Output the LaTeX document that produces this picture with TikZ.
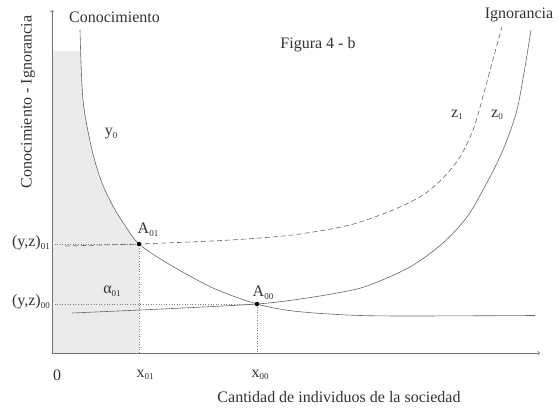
\documentclass[tikz,border=0pt]{standalone}
\usepackage{fontspec}
\setmainfont{Liberation Serif}
\usepackage{tikz}

\newcommand{\bajo}[1]{\raisebox{-0.35ex}{\fontsize{9}{9}\selectfont #1}}

\tikzset{
	curva/.style={draw=black!60, line width=0.6pt},
	guia/.style={draw=black!50, dotted, line width=0.6pt},
	eje/.style={draw=black!55, line width=0.7pt, ->},
	etiqueta/.style={text=black!80, inner sep=1pt},
}

\begin{document}
\begin{tikzpicture}[x=10pt,y=10pt,font=\fontsize{16}{19}\selectfont]
	\useasboundingbox (-5.2,-5.7) rectangle (50.7,35.3);
	%\draw[help lines] (0,0) grid (48,34);
	\coordinate (O) at (0,0);
	\coordinate (xfin) at (48.8,0);
	\coordinate (yfin) at (0,34.3);
	\coordinate (A01) at (8.7,10.9);
	\coordinate (A00) at (20.5,4.9);
	\coordinate (y01) at (0,10.9);
	\coordinate (y00) at (0,4.9);
	\coordinate (x01) at (8.7,0);
	\coordinate (x00) at (20.5,0);
	% zona sombreada
	\begin{scope}
		\clip (0,0) -- (0,34) -- (2.8,34) -- plot[smooth] coordinates {(2.8,32.3) (3.1,25.3) (4.0,20.3) (5.0,17.0) (6.2,14.5) (7.4,12.6) (8.7,10.9) (11.5,9.0) (16.1,6.5) (20.5,4.9) (24.1,4.2) (29.5,3.8) (35,3.7) (48.3,3.75)} -- (48.3,0) -- cycle;
		\fill[black!8] (O) rectangle (8.7,30.2);
	\end{scope}
	% ejes
	\draw[eje] (O) -- (xfin);
	\draw[eje] (O) -- (yfin);
	% lineas de guia
	\draw[guia] (y01) -- (A01) -- (x01);
	\draw[guia] (y00) -- (A00) -- (x00);
	% curva y0
	\draw[curva] plot[smooth] coordinates {(2.8,32.3) (3.1,25.3) (4.0,20.3) (5.0,17.0) (6.2,14.5) (7.4,12.6) (8.7,10.9) (11.5,9.0) (16.1,6.5) (20.5,4.9) (24.1,4.2) (29.5,3.8) (35,3.7) (48.3,3.75)};
	% curva z0
	\draw[curva] plot[smooth] coordinates {(2.0,4.0) (11,4.4) (20.5,4.9) (24.8,5.4) (28.5,6.0) (31.5,6.7) (35.8,8.6) (39.1,11.0) (41.5,13.6) (43.1,16.3) (44.5,19.0) (45.5,21.3) (46.5,24.3) (47.2,28.0) (47.9,32.3)};
	% curva z1
	\draw[curva, dash pattern=on 5pt off 3pt] plot[smooth] coordinates {(1.3,10.7) (8.7,10.9) (16,11.2) (20.8,11.5) (24.8,11.9) (29.8,12.8) (34.1,14.3) (37.1,15.8) (39.1,17.5) (40.8,19.6) (42.1,22.3) (43.0,25.3) (44.0,29.0) (45.0,32.6)};
	% puntos
	\filldraw[black] (A01) circle (2pt);
	\filldraw[black] (A00) circle (2pt);
	% textos
	\node[etiqueta, anchor=west] (conoc) at (1.6,33.6) {Conocimiento};
	\node[etiqueta] (ignor) at (46.7,33.8) {Ignorancia};
	\node[etiqueta] (fig) at (26.6,30.8) {Figura 4 - b};
	\node[etiqueta] (ly0) at (5.9,21.9) {y\bajo{0}};
	\node[etiqueta] (lz1) at (40.5,23.8) {z\bajo{1}};
	\node[etiqueta] (lz0) at (44.5,23.8) {z\bajo{0}};
	\node[etiqueta] (lA01) at (9.6,12.3) {A\bajo{01}};
	\node[etiqueta] (lA00) at (21.1,6.0) {A\bajo{00}};
	\node[etiqueta] (lalfa) at (6.0,6.2) {α\bajo{01}};
	\node[etiqueta, anchor=east] (lyz01) at (-0.1,11.0) {(y,z)\bajo{01}};
	\node[etiqueta, anchor=east] (lyz00) at (-0.1,5.1) {(y,z)\bajo{00}};
	\node[etiqueta] (cero) at (0.5,-2.2) {0};
	\node[etiqueta] (lx01) at (9.3,-2.2) {x\bajo{01}};
	\node[etiqueta] (lx00) at (20.8,-2.2) {x\bajo{00}};
	\node[etiqueta] (xlab) at (28.7,-4.4) {Cantidad de individuos de la sociedad};
	\node[etiqueta, rotate=90] (ylab) at (-2.4,25.1) {Conocimiento - Ignorancia};
\end{tikzpicture}
\end{document}
